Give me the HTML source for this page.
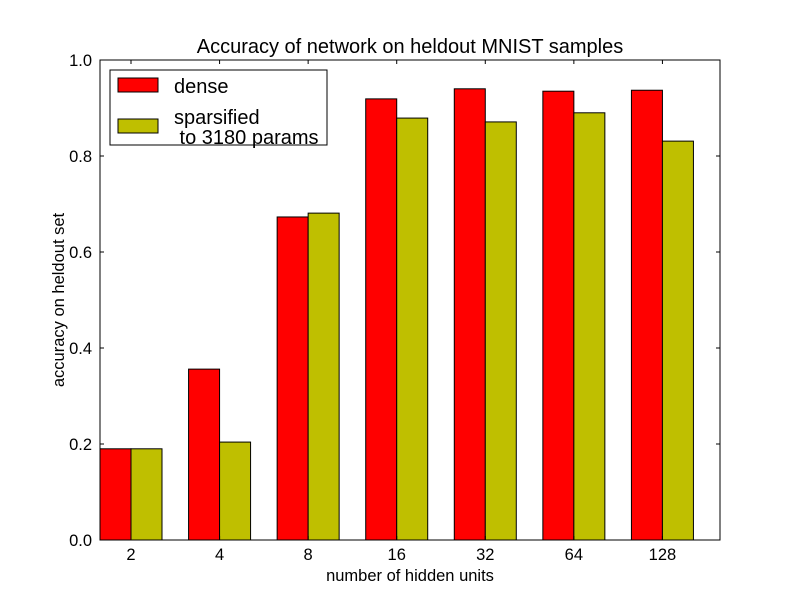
<!DOCTYPE html>
<html><head><meta charset="utf-8"><style>
body{margin:0;background:#fff;}
svg{font-family:"Liberation Sans","DejaVu Sans",sans-serif;}
</style></head><body>
<svg id="chart" width="800" height="600" xmlns="http://www.w3.org/2000/svg">
<rect width="800" height="600" fill="#fff"/>
<g id="bars"></g>
<rect x="100" y="60" width="620" height="480" fill="none" stroke="#000" stroke-width="1"/>
<g id="ticks"></g>
<text x="410" y="53" text-anchor="middle" font-size="20">Accuracy of network on heldout MNIST samples</text>
<text x="410" y="581" text-anchor="middle" font-size="16.5">number of hidden units</text>
<text transform="translate(64,300) rotate(-90)" text-anchor="middle" font-size="16.5">accuracy on heldout set</text>
<g>
<rect x="110" y="70" width="217" height="75" fill="#fff" stroke="#000"/>
<rect x="118" y="78" width="40" height="14" fill="#ff0000" stroke="#000"/>
<text x="174" y="93" font-size="20">dense</text>
<rect x="118" y="119" width="40" height="14" fill="#bfbf00" stroke="#000"/>
<text x="174" y="124" font-size="20">sparsified</text>
<text x="174" y="144" font-size="20" xml:space="preserve"> to 3180 params</text>
</g>
</svg>
<script>
const categories=["2","4","8","16","32","64","128"];
const denseValues=[0.19,0.356,0.673,0.919,0.94,0.935,0.937];
const sparseValues=[0.19,0.204,0.681,0.879,0.871,0.89,0.831];
const yTicks=[0,0.2,0.4,0.6,0.8,1.0];
const yTickLabels=["0.0","0.2","0.4","0.6","0.8","1.0"];
const NS="http://www.w3.org/2000/svg";
const X0=100,X1=720,Y0=540,Y1=60,BW=0.35;
const xs=v=>X0+(v/categories.length)*(X1-X0);
const ys=v=>Y0-v*(Y0-Y1);
const bars=document.getElementById('bars'),ticks=document.getElementById('ticks');
function mk(tag,attrs,parent){const e=document.createElementNS(NS,tag);for(const k in attrs)e.setAttribute(k,attrs[k]);parent.appendChild(e);return e;}
categories.forEach((c,i)=>{
  const r=mk('rect',{x:xs(i),y:ys(denseValues[i]),width:xs(i+BW)-xs(i),height:ys(0)-ys(denseValues[i]),fill:'#ff0000',stroke:'#000'},bars);
  
  
  const s=mk('rect',{x:xs(i+BW),y:ys(sparseValues[i]),width:xs(i+2*BW)-xs(i+BW),height:ys(0)-ys(sparseValues[i]),fill:'#bfbf00',stroke:'#000'},bars);
  
  
  const tx=xs(i+BW);
  mk('line',{x1:tx,x2:tx,y1:Y0,y2:Y0-4,stroke:'#000'},ticks);
  mk('line',{x1:tx,x2:tx,y1:Y1,y2:Y1+4,stroke:'#000'},ticks);
  const t=mk('text',{x:tx,y:Y0+20,'text-anchor':'middle','font-size':16.5},ticks);
  t.textContent=c;
  
  
});
yTicks.forEach((v,i)=>{
  const y=ys(v);
  mk('line',{x1:X0,x2:X0+4,y1:y,y2:y,stroke:'#000'},ticks);
  mk('line',{x1:X1,x2:X1-4,y1:y,y2:y,stroke:'#000'},ticks);
  const t=mk('text',{x:X0-8,y:y+6,'text-anchor':'end','font-size':16.5},ticks);
  t.textContent=yTickLabels[i];
  
  
});
</script>
</body></html>
